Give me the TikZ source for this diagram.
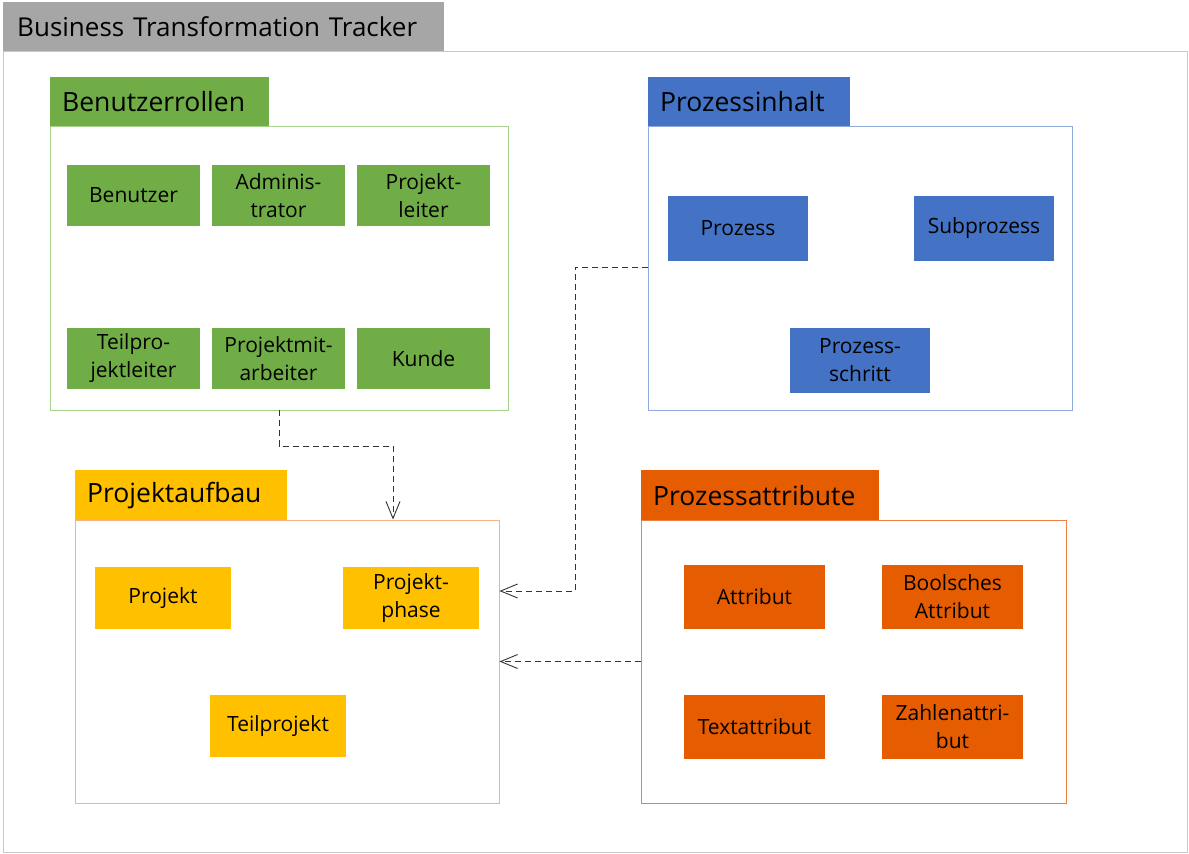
\documentclass[tikz,border=0pt]{standalone}
\usepackage{fontspec}
\setmainfont{Open Sans}
\usetikzlibrary{arrows.meta}
\definecolor{cgreen}{HTML}{70AD47}
\definecolor{cgreenl}{HTML}{A9D18E}
\definecolor{cblue}{HTML}{4472C4}
\definecolor{cbluel}{HTML}{8FAADC}
\definecolor{cyellow}{HTML}{FFC000}
\definecolor{cyellowl}{HTML}{F4B183}
\definecolor{corange}{HTML}{E65C00}
\definecolor{corangel}{HTML}{F08040}
\definecolor{cgray}{HTML}{A6A6A6}
\definecolor{cframe}{HTML}{C8C8C8}
\begin{document}
\begin{tikzpicture}[x=1pt,y=-1pt,
  tab/.style={anchor=north west, inner xsep=12pt, inner ysep=0pt, align=left, font=\fontsize{26.5}{30}\selectfont, text=black},
  container/.style={draw, line width=0.9pt, fill=white},
  item/.style={inner sep=0pt, align=center, font=\fontsize{21}{28}\selectfont, text=black},
  conn/.style={draw=black!80, line width=0.9pt, dash pattern=on 6pt off 4pt, -{Straight Barb[length=17pt,width=14pt,line width=0.9pt]}}
]
\useasboundingbox (0,0) rectangle (1189,854);
\fill[white] (0,0) rectangle (1189,854);
% outer frame
\node (frame) [draw=cframe, line width=1.2pt, minimum width=1184pt, minimum height=801pt, anchor=north west, inner sep=0pt] at (3,51) {};
\node (title) [tab, fill=cgray, minimum width=441pt, minimum height=49pt, text width=413pt, inner xsep=14pt, font=\fontsize{26}{30}\selectfont] at (3,2) {Business Transformation Tracker};

% Benutzerrollen
\node (benbox) [container, draw=cgreenl, minimum width=458pt, minimum height=284pt] at (279,268) {};
\node (bentab) [tab, fill=cgreen, minimum width=219pt, minimum height=49pt, text width=195pt] at (50,77) {Benutzerrollen};
\begin{scope}[every node/.style={item, fill=cgreen, minimum width=133pt, minimum height=61pt}]
\node (benutzer) at (133.5,195.5) {Benutzer};
\node (admin) at (278.5,195.5) {Adminis-\\trator};
\node (pl) at (423.5,195.5) {Projekt-\\leiter};
\node (tpl) at (133.5,358.5) {Teilpro-\\jektleiter};
\node (pma) at (278.5,358.5) {Projektmit-\\arbeiter};
\node (kunde) at (423.5,358.5) {Kunde};
\end{scope}

% Prozessinhalt
\node (prozbox) [container, draw=cbluel, minimum width=424pt, minimum height=284pt] at (860,268) {};
\node (proztab) [tab, fill=cblue, minimum width=202pt, minimum height=49pt, text width=178pt] at (648,77) {Prozessinhalt};
\begin{scope}[every node/.style={item, fill=cblue, minimum width=140pt, minimum height=65pt}]
\node (prozess) at (738,228.5) {Prozess};
\node (subprozess) at (984,228.5) {Subprozess};
\node (schritt) at (860,360) {Prozess-\\schritt};
\end{scope}

% Projektaufbau
\node (aufbox) [container, draw=cyellowl, minimum width=424pt, minimum height=283pt] at (287,661.5) {};
\node (auftab) [tab, fill=cyellow, minimum width=212pt, minimum height=50pt, text width=188pt] at (75,470) {Projektaufbau};
\begin{scope}[every node/.style={item, fill=cyellow, minimum width=136pt, minimum height=62pt}]
\node (projekt) at (163,598) {Projekt};
\node (phase) at (411,598) {Projekt-\\phase};
\node (teilprojekt) at (278,726) {Teilprojekt};
\end{scope}

% Prozessattribute
\node (attrbox) [container, draw=corangel, minimum width=425pt, minimum height=283pt] at (853.5,661.5) {};
\node (attrtab) [tab, fill=corange, minimum width=238pt, minimum height=50pt, text width=214pt] at (641,470) {Prozessattribute};
\begin{scope}[every node/.style={item, fill=corange, minimum width=141pt, minimum height=64pt}]
\node (attribut) at (754.5,597) {Attribut};
\node (bool) at (952.5,597) {Boolsches\\Attribut};
\node (text) at (754.5,727) {Textattribut};
\node (zahl) at (952.5,727) {Zahlenattri-\\but};
\end{scope}

% connectors
\coordinate (c1) at (393,446);
\draw[conn] (benbox.south) |- (c1) -- (c1 |- aufbox.north);
\coordinate (c2) at (575,267);
\coordinate (c3) at (575,591);
\draw[conn] (prozbox.west |- c2) -- (c2) -- (c3) -- (c3 -| aufbox.east);
\draw[conn] (attrbox.west) -- (attrbox.west -| aufbox.east);
\end{tikzpicture}
\end{document}
